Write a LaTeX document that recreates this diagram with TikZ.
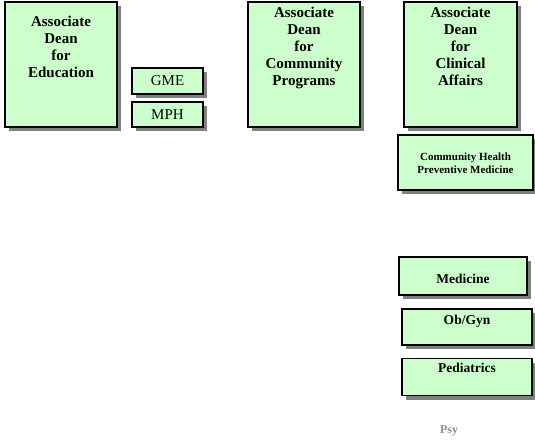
\documentclass[tikz,border=0pt]{standalone}
\usepackage{fontspec}
\setmainfont{Liberation Serif}
\usetikzlibrary{shadows}
\definecolor{boxgreen}{RGB}{204,255,204}
\definecolor{shadowgray}{RGB}{128,128,128}
\definecolor{psygray}{RGB}{140,140,140}
\tikzset{
  unitbox/.style={draw=black, line width=1.6pt, fill=boxgreen, inner sep=0pt,
    drop shadow={shadow xshift=4pt, shadow yshift=-4pt, fill=shadowgray, opacity=1}},
  bigtext/.style={anchor=north, align=center, inner sep=0pt, font=\fontsize{15}{17}\selectfont\bfseries},
  plaintext/.style={anchor=center, align=center, inner sep=0pt, font=\fontsize{15}{17}\selectfont},
  smalltext/.style={anchor=center, align=center, inner sep=0pt, font=\fontsize{11}{13}\selectfont\bfseries},
  midtext/.style={anchor=center, align=center, inner sep=0pt, font=\fontsize{13.5}{15}\selectfont\bfseries}
}
\begin{document}
\begin{tikzpicture}[x=1pt,y=-1pt]
\useasboundingbox (0,0) rectangle (535,441);
% boxes
\node[unitbox, minimum width=112pt, minimum height=125pt] (edu) at (61,64.5) {};
\node[unitbox, minimum width=71pt, minimum height=26pt] (gme) at (167.5,81) {};
\node[unitbox, minimum width=71pt, minimum height=25pt] (mph) at (167.5,114.5) {};
\node[unitbox, minimum width=112pt, minimum height=125pt] (comm) at (304,64.5) {};
\node[unitbox, minimum width=113pt, minimum height=125pt] (clin) at (460.5,64.5) {};
\node[unitbox, minimum width=135pt, minimum height=55pt] (chpm) at (465.5,162.5) {};
\node[unitbox, minimum width=128pt, minimum height=38pt] (med) at (463,276) {};
\node[unitbox, minimum width=130pt, minimum height=36pt] (obgyn) at (467,327) {};
\node[unitbox, minimum width=130pt, minimum height=37pt] (ped) at (467,377) {};
% texts
\node[bigtext] (eduT) at ([yshift=-15pt]edu.north) {Associate\\Dean\\for\\Education};
\node[plaintext] (gmeT) at (gme.center) {GME};
\node[plaintext] (mphT) at (mph.center) {MPH};
\node[bigtext] (commT) at ([yshift=-6pt]comm.north) {Associate\\Dean\\for\\Community\\Programs};
\node[bigtext] (clinT) at ([yshift=-6pt]clin.north) {Associate\\Dean\\for\\Clinical\\Affairs};
\node[smalltext] (chpmT) at (465.5,163.5) {Community Health\\Preventive Medicine};
\node[midtext] (medT) at (463,279) {Medicine};
\node[midtext] (obgynT) at (467,321) {Ob/Gyn};
\node[midtext] (pedT) at (467,368) {Pediatrics};
\node[anchor=center, inner sep=0pt, text=psygray, font=\fontsize{12}{14}\selectfont\bfseries] (psy) at (449,431) {Psy};
\end{tikzpicture}
\end{document}
